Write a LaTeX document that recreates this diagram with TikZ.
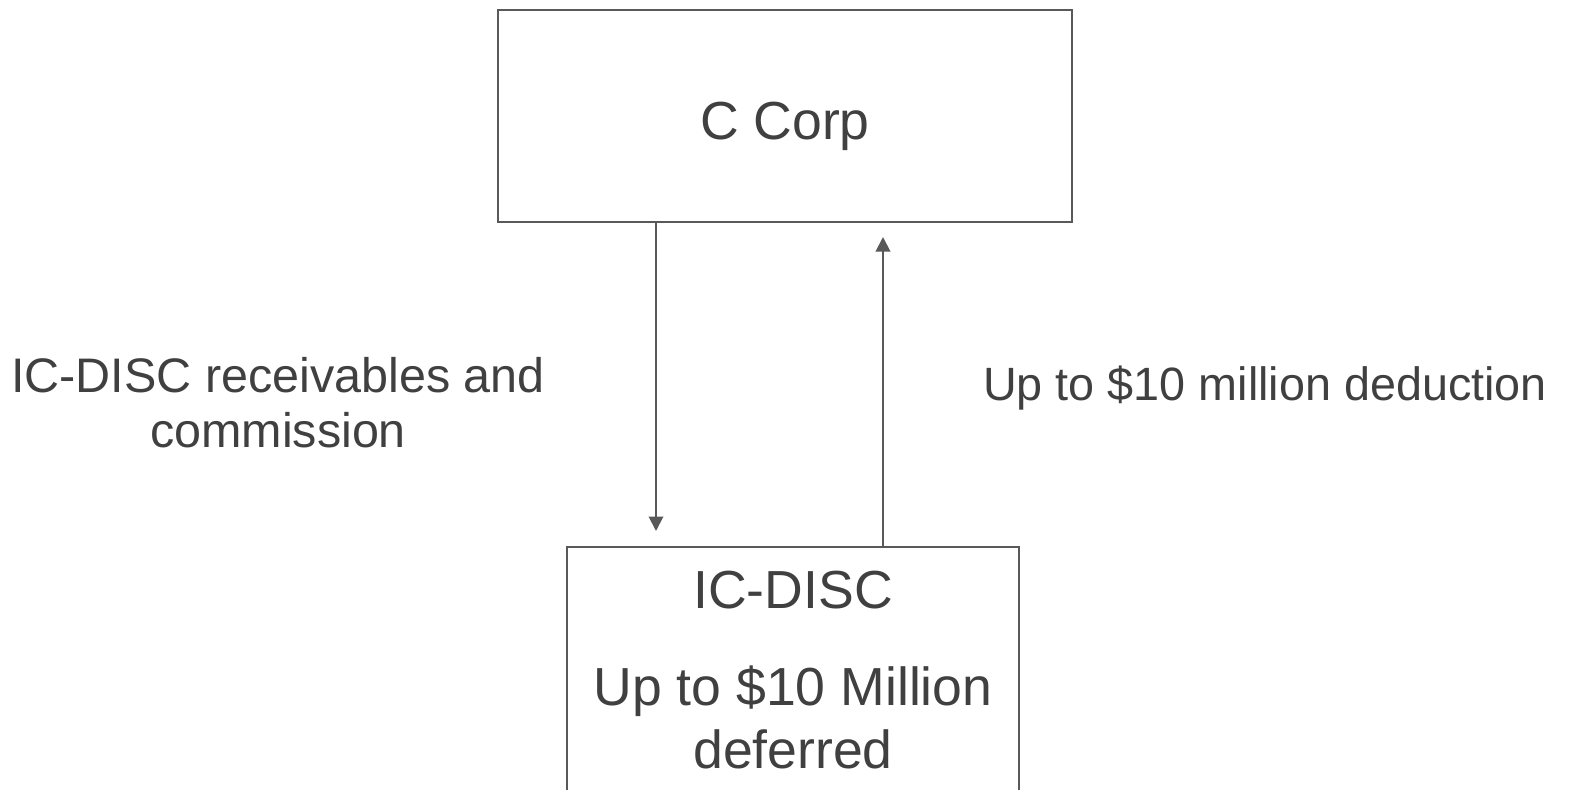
\documentclass[tikz,border=0pt]{standalone}
\usepackage{fontspec}
\setmainfont{Liberation Sans}
\usetikzlibrary{arrows.meta, positioning}
\definecolor{textgray}{RGB}{64, 64, 64}
\definecolor{linegray}{RGB}{89, 89, 89}

\begin{document}
\begin{tikzpicture}[x=0.02cm, y=-0.02cm,
    box/.style={draw=linegray, line width=1.1pt, fill=white},
    lbl/.style={text=textgray, font=\fontsize{26.6}{32}\selectfont, anchor=base, inner sep=0pt},
    boxlbl/.style={lbl, font=\fontsize{30.5}{36}\selectfont},
    flow/.style={draw=linegray, line width=1.1pt, -{Triangle[length=0.29cm, width=0.29cm]}}]
    \useasboundingbox (0,0) rectangle (1570,789);
    % Boxes
    \node[box, minimum width=11.48cm, minimum height=4.24cm] (ccorp) at (785,116) {};
    \node[box, anchor=north, minimum width=9.04cm, minimum height=5.2cm] (disc) at (793,546) {};
    % Box texts
    \node[boxlbl] (ccorptext) at (785,139) {C Corp};
    \node[boxlbl] (disctitle) at (793,608) {IC-DISC};
    \node[boxlbl] (discline1) at (793,705) {Up to \$10 Million};
    \node[boxlbl] (discline2) at (793,768) {deferred};
    % Flows
    \coordinate (downtop) at (656,222);
    \coordinate (downend) at (656,531);
    \coordinate (upstart) at (883,546);
    \coordinate (upend) at (883,237);
    \draw[flow] (downtop) -- (downend);
    \draw[flow] (upstart) -- (upend);
    % Flow labels
    \node[lbl, font=\fontsize{27.6}{32}\selectfont] (recv1) at (278,392) {IC-DISC receivables and};
    \node[lbl, font=\fontsize{27.6}{32}\selectfont] (recv2) at (278,447) {commission};
    \node[lbl] (deduct) at (1265,400) {Up to \$10 million deduction};
\end{tikzpicture}
\end{document}
